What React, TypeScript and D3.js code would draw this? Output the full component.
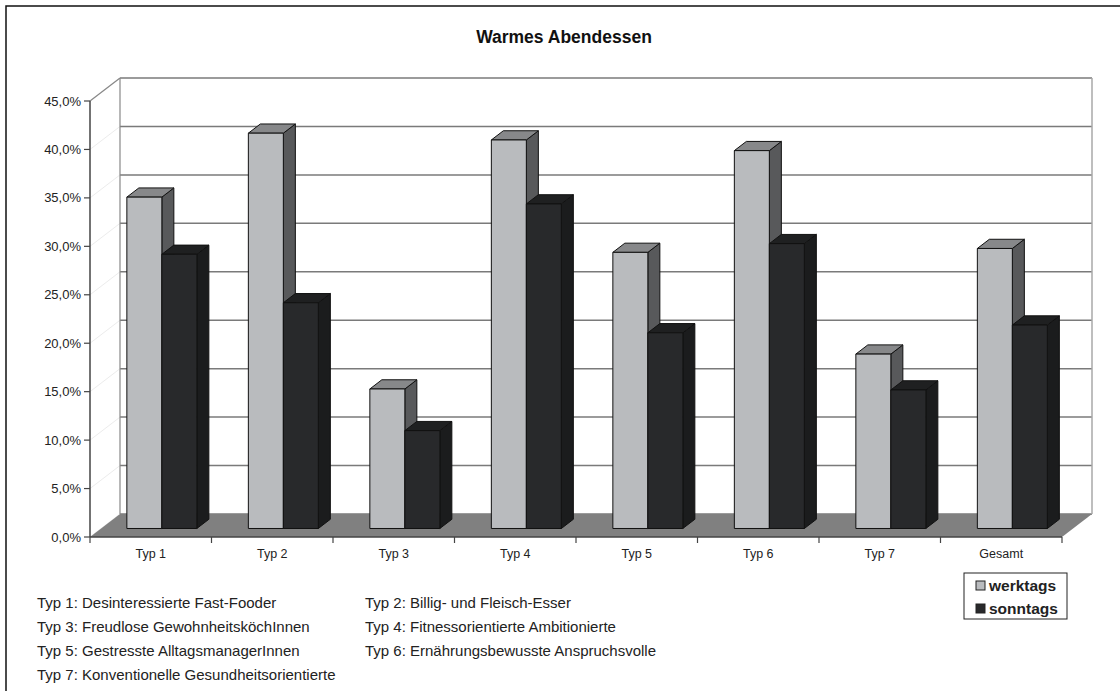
import * as d3 from "d3";

const categories = ["Typ 1", "Typ 2", "Typ 3", "Typ 4", "Typ 5", "Typ 6", "Typ 7", "Gesamt"];
const seriesNames = ["werktags", "sonntags"];
const werktags = [0.342, 0.408, 0.144, 0.401, 0.285, 0.390, 0.180, 0.289];
const sonntags = [0.283, 0.233, 0.101, 0.335, 0.202, 0.294, 0.143, 0.210];
const yTicks = [0, 0.05, 0.1, 0.15, 0.2, 0.25, 0.3, 0.35, 0.4, 0.45];
const typeNotes = [
  "Typ 1: Desinteressierte Fast-Fooder",
  "Typ 2: Billig- und Fleisch-Esser",
  "Typ 3: Freudlose GewohnheitsköchInnen",
  "Typ 4: Fitnessorientierte Ambitionierte",
  "Typ 5: Gestresste AlltagsmanagerInnen",
  "Typ 6: Ernährungsbewusste Anspruchsvolle",
  "Typ 7: Konventionelle Gesundheitsorientierte",
];

const W = 1120;
const H = 691;
const font = "Arial, 'Liberation Sans', sans-serif";

// 3d look: back wall is shifted by (depthX, -depthY)
const depthX = 30;
const depthY = 23;
const barDepth = 0.4; // fraction of full depth
const barFront = 0.37;

const colors = {
  werktags: { front: "#b9bbbe", side: "#58595b", top: "#87888a" },
  sonntags: { front: "#28292b", side: "#1b1c1d", top: "#1f2021" },
};

function App() {
  const xScale = d3.scaleBand<string>().domain(categories).range([90, 1062]);
  const yScale = d3.scaleLinear().domain([0, 0.45]).range([537, 101]);
  const groupWidth = 70;
  const subScale = d3.scaleBand<string>().domain(seriesNames).range([0, groupWidth]);

  const y0 = yScale(0);
  const yTop = yScale(0.45);
  const x0 = xScale.range()[0];
  const x1 = xScale.range()[1];

  const fmt = (v: number) => d3.format(".1f")(v * 100).replace(".", ",") + "%";

  const pts = (p: number[][]) => p.map((d) => d.join(",")).join(" ");

  const bar = (cat: string, name: string, v: number, key: string) => {
    const c = colors[name as keyof typeof colors];
    const gx = (xScale(cat) as number) + (xScale.bandwidth() - groupWidth) / 2;
    const left = gx + (subScale(name) as number) + barFront * depthX;
    const right = left + subScale.bandwidth();
    const base = y0 - barFront * depthY;
    const top = yScale(v) - barFront * depthY;
    const dx = barDepth * depthX;
    const dy = barDepth * depthY;
    return (
      <g key={key} stroke="#111" strokeWidth={1} strokeLinejoin="round">
        <polygon points={pts([[right, top], [right + dx, top - dy], [right + dx, base - dy], [right, base]])} fill={c.side} />
        <polygon points={pts([[left, top], [left + dx, top - dy], [right + dx, top - dy], [right, top]])} fill={c.top} />
        <rect x={left} y={top} width={right - left} height={base - top} fill={c.front} />
      </g>
    );
  };

  return (
    <svg width={W} height={H} style={{ position: "absolute", left: 0, top: 0, background: "#fff" }}>
      <rect x={6} y={6} width={W + 10} height={H + 10} fill="#fff" stroke="#111" strokeWidth={1.5} />
      <text x={564} y={43} textAnchor="middle" fontFamily={font} fontWeight="bold" fontSize={17.5} fill="#111">
        Warmes Abendessen
      </text>

      {/* side wall grid */}
      {yTicks.map((t) => (
        <line key={"sw" + t} x1={x0} y1={yScale(t)} x2={x0 + depthX} y2={yScale(t) - depthY} stroke="#ececec" />
      ))}
      <line x1={x0} y1={yTop} x2={x0 + depthX} y2={yTop - depthY} stroke="#888" strokeWidth={1.2} />

      {/* back wall grid */}
      {yTicks.map((t) => (
        <line key={"bw" + t} x1={x0 + depthX} y1={yScale(t) - depthY} x2={x1 + depthX} y2={yScale(t) - depthY} stroke="#7a7a7a" strokeWidth={1.5} />
      ))}
      <line x1={x0 + depthX} y1={yTop - depthY} x2={x0 + depthX} y2={y0 - depthY} stroke="#888" strokeWidth={1.2} />
      <line x1={x1 + depthX} y1={yTop - depthY} x2={x1 + depthX} y2={y0 - depthY} stroke="#a8a8a8" strokeWidth={1.5} />

      {/* floor */}
      <polygon points={pts([[x0, y0], [x0 + depthX, y0 - depthY], [x1 + depthX, y0 - depthY], [x1, y0]])} fill="#808080" />

      {/* bars */}
      {categories.map((cat, i) => (
        <g key={cat}>
          {bar(cat, "werktags", werktags[i], cat + "w")}
          {bar(cat, "sonntags", sonntags[i], cat + "s")}
        </g>
      ))}

      {/* y axis */}
      <line x1={x0} y1={yTop} x2={x0} y2={y0} stroke="#444" strokeWidth={1.5} />
      {yTicks.map((t) => (
        <g key={"yt" + t}>
          <line x1={x0 - 6} x2={x0} y1={yScale(t)} y2={yScale(t)} stroke="#444" strokeWidth={1.2} />
          <text x={x0 - 9} y={yScale(t) + 4.5} textAnchor="end" fontFamily={font} fontSize={13} fill="#222">
            {fmt(t)}
          </text>
        </g>
      ))}

      {/* x axis */}
      <line x1={x0} y1={y0} x2={x1} y2={y0} stroke="#444" strokeWidth={1.5} />
      {[...categories.map((c) => xScale(c) as number), x1].map((x, i) => (
        <line key={"xt" + i} x1={x} x2={x} y1={y0} y2={y0 + 6} stroke="#444" strokeWidth={1.2} />
      ))}
      {categories.map((c) => (
        <text key={"xl" + c} x={(xScale(c) as number) + xScale.bandwidth() / 2} y={y0 + 21} textAnchor="middle" fontFamily={font} fontSize={12.5} fill="#222">
          {c}
        </text>
      ))}

      {/* legend */}
      <rect x={964} y={573} width={103} height={46} fill="#fff" stroke="#222" strokeWidth={1} />
      {seriesNames.map((name, i) => (
        <g key={name}>
          <rect x={976} y={581 + i * 23} width={9} height={9} fill={colors[name as keyof typeof colors].front} stroke="#222" />
          <text x={989} y={591 + i * 23} fontFamily={font} fontWeight="bold" fontSize={15.5} fill="#222">
            {name}
          </text>
        </g>
      ))}

      {/* type descriptions */}
      {typeNotes.map((t, i) => (
        <text key={t} x={i % 2 === 0 ? 37 : 365} y={608 + Math.floor(i / 2) * 24} fontFamily={font} fontSize={15} fill="#222">
          {t}
        </text>
      ))}
    </svg>
  );
}

export default App;
